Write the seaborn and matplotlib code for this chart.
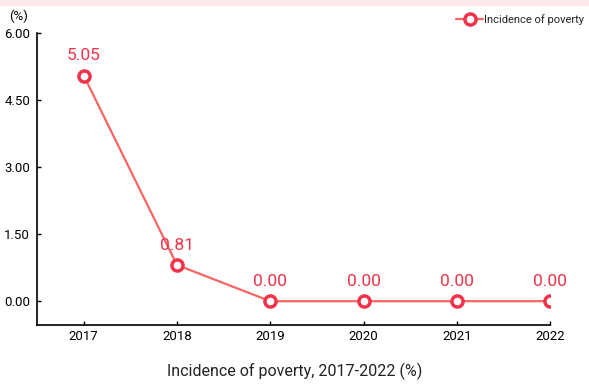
import matplotlib
matplotlib.use("Agg")
import matplotlib.pyplot as plt
import matplotlib.patches as mpatches
import seaborn as sns
import pandas as pd

years = ["2017", "2018", "2019", "2020", "2021", "2022"]
poverty = [5.05, 0.81, 0.00, 0.00, 0.00, 0.00]
yticks = [0.00, 1.50, 3.00, 4.50, 6.00]

sns.set_theme(style="white")
plt.rcParams["font.family"] = ["Roboto", "DejaVu Sans"]

df = pd.DataFrame({"year": years, "value": poverty})

fig = plt.figure(figsize=(5.89, 3.90), dpi=100)
# soft pink header band
fig.patches.append(mpatches.Rectangle((0, 0.988), 1, 0.012, transform=fig.transFigure,
                                      color="#fde8ea", zorder=0))
ax = fig.add_axes([0.063, 0.167, 0.871, 0.748])

line_color = "#f86565"
mark_color = "#f0334b"
sns.lineplot(data=df, x="year", y="value", ax=ax, color=line_color, linewidth=1.6,
             marker="o", markersize=8, markerfacecolor="white",
             markeredgecolor=mark_color, markeredgewidth=2.5,
             label="Incidence of poverty", sort=False)

for x, v in zip(years, poverty):
    ax.annotate(f"{v:.2f}", (x, v), xytext=(0, 9), textcoords="offset points",
                ha="center", va="bottom", color=mark_color, fontsize=12.5)

ax.set_xlim(-0.5, 5)
ax.set_ylim(-0.53, 6.0)
ax.set_yticks(yticks)
ax.set_yticklabels([f"{t:.2f}" for t in yticks])
ax.set_xlabel("")
ax.set_ylabel("")
for s in ["top", "right"]:
    ax.spines[s].set_visible(False)
for s in ["left", "bottom"]:
    ax.spines[s].set_color("black")
    ax.spines[s].set_linewidth(1.2)
ax.tick_params(axis="both", direction="in", length=3, width=1, colors="black",
               labelsize=9.5, left=True, bottom=True, pad=4)
ax.tick_params(axis="y", pad=5)

ax.text(-0.036, 1.035, "(%)", transform=ax.transAxes, ha="center", va="bottom",
        fontsize=9.5, color="black")

leg = ax.legend(loc="upper right", bbox_to_anchor=(1.075, 1.08), frameon=False,
                fontsize=8, handlelength=2.4, handletextpad=0.1, borderaxespad=0)
for t in leg.get_texts():
    t.set_color("#222222")

fig.text(0.5, 0.025, "Incidence of poverty, 2017-2022 (%)", ha="center", va="bottom",
         fontsize=11.5, color="#222222")

fig.savefig("out.png", dpi=100)
